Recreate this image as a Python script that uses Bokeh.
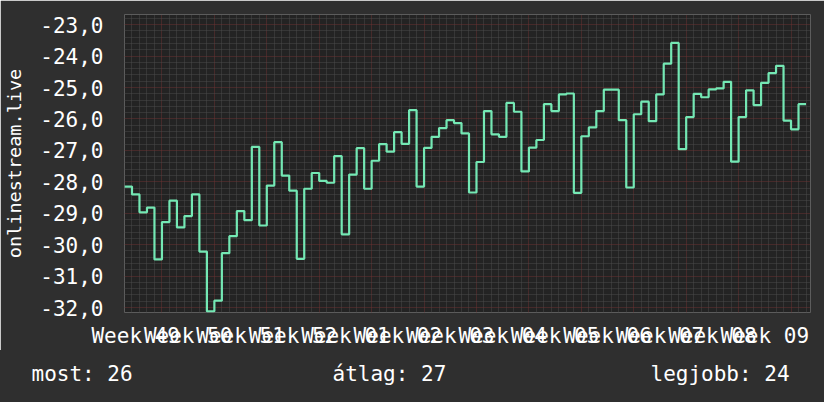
import numpy as np
from bokeh.plotting import figure
from bokeh.layouts import column
from bokeh.models import FixedTicker, Range1d, Div
from bokeh.embed import file_html
from bokeh.resources import INLINE

# daily rank values (negative: higher is better)
rank = [
    -28.15, -28.40, -28.97, -28.82, -30.47, -29.28, -28.60, -29.45, -29.09, -28.40,
    -30.22, -32.12, -31.78, -30.27, -29.73, -28.93, -29.22, -26.89, -29.39, -28.12,
    -26.74, -27.80, -28.28, -30.45, -28.22, -27.72, -27.97, -28.03, -27.18, -29.67,
    -27.77, -26.93, -28.22, -27.33, -26.80, -27.04, -26.42, -26.79, -25.72, -28.15,
    -26.92, -26.57, -26.29, -26.04, -26.13, -26.46, -28.34, -27.37, -25.75, -26.49,
    -26.57, -25.49, -25.77, -27.67, -26.91, -26.67, -25.53, -25.75, -25.22, -25.19,
    -28.35, -26.55, -26.27, -25.75, -25.07, -25.07, -26.04, -28.18, -25.85, -25.45,
    -26.07, -25.22, -24.24, -23.58, -26.96, -25.94, -25.20, -25.31, -25.06, -25.03,
    -24.82, -27.36, -25.94, -25.09, -25.56, -24.85, -24.54, -24.31, -26.05, -26.33,
    -25.53,
]
week_labels = ["Week 49", "Week 50", "Week 51", "Week 52", "Week 01", "Week 02",
               "Week 03", "Week 04", "Week 05", "Week 06", "Week 07", "Week 08", "Week 09"]
first_week_start = 5          # day index of the first Monday in view
y_ticks = [-32, -31, -30, -29, -28, -27, -26, -25, -24, -23]
series_name = "onlinestream.live"
stat_names = ["most", "átlag", "legjobb"]

FONT = "DejaVu Sans Mono"
TXT = "#ffffff"
BG = "#2f2f2f"

week_starts = [first_week_start + 7 * k for k in range(len(week_labels))]
label_pos = [w - 3.5 for w in week_starts]
n = len(rank)

p = figure(width=824, height=350, output_backend="svg", toolbar_location=None,
           x_range=Range1d(0, 91.6), y_range=Range1d(-32.157, -22.677),
           min_border_left=124, min_border_right=14, min_border_top=14,
           min_border_bottom=35, title_location=None)
p.background_fill_color = "#232323"
p.border_fill_color = BG
p.outline_line_color = None

# grids
p.xgrid.ticker = FixedTicker(ticks=week_starts,
                             minor_ticks=[d for d in range(0, 92) if d not in week_starts])
minor_y = [round(-32.2 + 0.2 * i, 1) for i in range(49)]
p.ygrid.ticker = FixedTicker(ticks=y_ticks,
                             minor_ticks=[m for m in minor_y if abs(m - round(m)) > 1e-6])
for g in (p.xgrid, p.ygrid):
    g.grid_line_color = "#6a3333"
    g.grid_line_dash = "1 1"
    g.grid_line_width = 1
    g.minor_grid_line_color = "#4a4a4a"
    g.minor_grid_line_dash = "1 1"
    g.minor_grid_line_width = 1

# axes
xa = p.xaxis[0]
xa.ticker = FixedTicker(ticks=label_pos)
xa.major_label_overrides = {pos: lab for pos, lab in zip(label_pos, week_labels)}
xa.major_label_standoff = 5
ya = p.yaxis[0]
ya.ticker = FixedTicker(ticks=y_ticks)
ya.major_label_overrides = {t: ("%.1f" % t).replace(".", ",") for t in y_ticks}
ya.major_label_standoff = 15
ya.axis_label = series_name
ya.axis_label_text_font = FONT
ya.axis_label_text_font_size = "18.5px"
ya.axis_label_text_font_style = "normal"
ya.axis_label_text_color = TXT
ya.axis_label_standoff = 12
for ax in (xa, ya):
    ax.axis_line_color = None
    ax.major_tick_line_color = None
    ax.minor_tick_line_color = None
    ax.major_label_text_font = FONT
    ax.major_label_text_font_size = "21px"
    ax.major_label_text_color = TXT

# series
xs = list(range(n + 1))
ys = rank + [rank[-1]]
p.step(xs, ys, mode="after", line_color="#74e8b4", line_width=2.2)

# stats row
most = -rank[-1]
atlag = -float(np.mean(rank))
legjobb = -max(rank)
stat_texts = ["%s: %.0f" % (nm, v) for nm, v in zip(stat_names, [most, atlag, legjobb])]
stat_left = [31.5, 332.5, 650.5]
spans = "".join(
    '<span style="position:absolute;left:%.1fpx;top:14px;line-height:21px;white-space:pre">%s</span>'
    % (lx, t) for lx, t in zip(stat_left, stat_texts))
s = Div(text='<div style="position:relative;width:824px;height:52px;background:%s;'
             'font-family:\'%s\';font-size:21px;color:%s">%s</div>' % (BG, FONT, TXT, spans),
        width=824, height=52, margin=0, styles={"background": BG})

layout = column(p, s, spacing=0)
open("out.html", "w").write(file_html(layout, INLINE))
